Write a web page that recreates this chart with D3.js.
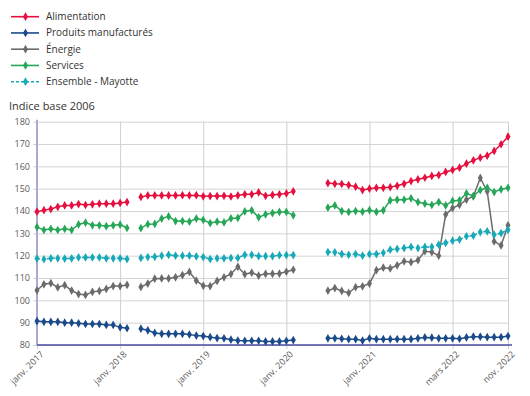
<!DOCTYPE html>
<html>
<head>
<meta charset="utf-8">
<script src="https://cdn.jsdelivr.net/npm/d3@7"></script>
<style>
  body { margin: 0; background: #fff; }
  text { font-family: "Open Sans", sans-serif; }
</style>
</head>
<body>
<div id="chart"></div>
<script>
// monthly positions 0..68 ; null = no publication
var tickIndex = [0, 12, 24, 36, 48, 60, 68];
var tickLabels = ["janv. 2017", "janv. 2018", "janv. 2019", "janv. 2020", "janv. 2021", "mars 2022", "nov. 2022"];
var yTicks = [80, 90, 100, 110, 120, 130, 140, 150, 160, 170, 180];

var seriesNames = ["Alimentation", "Produits manufacturés", "Énergie", "Services", "Ensemble - Mayotte"];

var alimentation = [139.7, 140.4, 140.9, 141.9, 142.5, 142.5, 143.1, 142.7, 143.0, 143.3, 143.3, 143.3, 143.6, 144.0,
  null,
  146.3, 147.0, 147.0, 147.0, 147.0, 147.0, 147.1, 147.0, 147.1, 146.6, 146.7, 146.7, 146.8, 146.5, 147.0, 147.5, 147.5, 148.3, 146.8, 147.2, 147.5, 147.9, 148.8,
  null, null, null, null,
  152.5, 152.2, 152.1, 151.6, 150.9, 149.4, 150.0, 150.4, 150.4, 150.7, 151.3, 152.2, 153.4, 154.2,
  154.9, 155.7, 156.1, 157.5, 158.4, 159.4, 161.2, 162.7, 163.9, 164.8, 166.9, 169.9, 173.3];

var produits = [90.7, 90.4, 90.4, 90.4, 90.0, 90.0, 89.7, 89.4, 89.4, 89.4, 89.0, 89.0, 87.9, 87.5,
  null,
  87.3, 86.6, 85.4, 85.0, 85.0, 85.0, 85.0, 84.7, 84.2, 84.0, 83.5, 83.1, 83.0, 82.4, 82.0, 81.9, 81.9, 81.9, 81.6, 81.6, 81.6, 81.9, 82.2,
  null, null, null, null,
  83.0, 83.0, 82.8, 82.6, 82.6, 82.0, 83.0, 82.6, 82.6, 82.6, 82.6, 82.6, 82.6, 83.0,
  83.4, 83.3, 83.0, 83.0, 83.0, 82.8, 83.4, 83.7, 83.7, 83.5, 83.5, 83.5, 84.0];

var energie = [104.5, 107.2, 107.7, 105.8, 106.8, 104.4, 102.8, 102.4, 103.8, 104.2, 105.1, 106.4, 106.4, 106.9,
  null,
  106.0, 107.5, 109.7, 109.8, 109.8, 110.3, 111.3, 112.7, 108.8, 106.5, 106.4, 108.7, 110.3, 111.8, 115.0, 111.7, 112.4, 111.1, 111.9, 111.9, 112.0, 112.8, 113.7,
  null, null, null, null,
  104.3, 105.5, 104.2, 103.3, 105.9, 106.3, 107.5, 113.5, 114.6, 114.3, 115.7, 117.5, 117.1, 118.0,
  122.0, 121.6, 120.0, 138.4, 141.3, 142.8, 145.1, 146.6, 154.8, 148.8, 126.4, 124.6, 133.6];

var services = [132.8, 131.5, 132.0, 131.5, 132.0, 131.5, 134.0, 134.8, 133.6, 133.6, 133.2, 133.6, 133.9, 132.4,
  null,
  132.3, 134.1, 134.2, 136.6, 137.6, 135.5, 135.5, 135.2, 136.6, 136.0, 134.6, 135.2, 134.9, 136.7, 136.9, 139.8, 140.3, 137.2, 138.5, 139.1, 139.6, 139.6, 138.1,
  null, null, null, null,
  141.5, 142.5, 140.0, 139.6, 140.0, 139.7, 140.4, 139.6, 140.3, 144.8, 145.1, 145.1, 145.7, 144.0,
  143.3, 142.7, 144.0, 142.5, 144.5, 144.8, 147.9, 146.7, 149.4, 150.4, 148.5, 149.7, 150.4];

var ensemble = [118.7, 118.4, 118.8, 118.8, 118.7, 118.8, 119.2, 119.2, 119.2, 119.2, 118.8, 118.8, 118.8, 118.5,
  null,
  119.0, 119.4, 119.5, 120.0, 120.4, 120.0, 120.0, 120.0, 119.7, 119.4, 118.5, 118.8, 118.8, 119.0, 119.0, 120.4, 120.4, 119.8, 119.8, 119.8, 120.2, 120.3, 120.3,
  null, null, null, null,
  121.6, 121.5, 120.7, 120.4, 120.7, 120.0, 120.7, 120.7, 121.3, 122.7, 123.0, 123.4, 123.9, 123.4,
  123.9, 123.9, 124.9, 125.7, 126.7, 127.2, 128.7, 129.0, 130.6, 130.9, 129.4, 130.1, 131.6];

var colors = ["#e5103f", "#1b4a8a", "#6b6b6b", "#26a657", "#17a9b7"];
var allSeries = [alimentation, produits, energie, services, ensemble];

var svgWidth = 530, svgHeight = 396;
var margin = { top: 121.7, right: 22, bottom: 51, left: 37 };
var width = svgWidth - margin.left - margin.right;
var height = svgHeight - margin.top - margin.bottom;

var svg = d3.select("#chart").append("svg")
  .attr("width", svgWidth)
  .attr("height", svgHeight);

var chartGroup = svg.append("g")
  .attr("transform", `translate(${margin.left}, ${margin.top})`);

var xScale = d3.scaleLinear().domain([0, alimentation.length - 1]).range([0, width]);
var yScale = d3.scaleLinear().domain([80, 180]).range([height, 0]);

// horizontal grid + y labels
var leftAxis = d3.axisLeft(yScale).tickValues(yTicks).tickSize(-width - 4).tickPadding(3);
var yAxis = chartGroup.append("g")
  .attr("transform", "translate(-4,0)")
  .call(leftAxis);
yAxis.select(".domain").remove();
yAxis.selectAll(".tick line").attr("stroke", "#d4d4d4");
yAxis.selectAll(".tick text").attr("fill", "#5a5a5a").style("font-size", "9px");

// vertical grid + rotated labels
var bottomAxis = d3.axisBottom(xScale).tickValues(tickIndex)
  .tickFormat((d, i) => tickLabels[i]).tickSize(-height).tickSizeOuter(0);
var xAxis = chartGroup.append("g")
  .attr("transform", `translate(0, ${height + 4})`)
  .call(bottomAxis);
xAxis.select(".domain").remove();
xAxis.selectAll(".tick line").attr("stroke", "#cfcfcf").attr("y2", -height - 4);
xAxis.selectAll(".tick text")
  .attr("fill", "#5a5a5a")
  .style("font-size", "9px")
  .attr("text-anchor", "end")
  .attr("transform", "translate(3,2) rotate(-45)")
  .attr("dy", "0.6em")
  .attr("y", 0);

// axis lines
chartGroup.append("line")
  .attr("x1", 0).attr("x2", 0).attr("y1", -2).attr("y2", height)
  .attr("stroke", "#a9a9d6").attr("stroke-width", 2);
chartGroup.append("line")
  .attr("x1", 0).attr("x2", width + 4).attr("y1", height).attr("y2", height)
  .attr("stroke", "#4a4aa8").attr("stroke-width", 1.5);

var line = d3.line()
  .defined(d => d !== null)
  .x((d, i) => xScale(i))
  .y(d => yScale(d));

var symbol = d3.symbol().type(d3.symbolDiamond).size(22);

allSeries.forEach(function(values, s) {
  chartGroup.append("path")
    .datum(values)
    .attr("fill", "none")
    .attr("stroke", colors[s])
    .attr("stroke-width", 1.5)
    .attr("stroke-dasharray", s === 4 ? "3,2" : null)
    .attr("d", line);

  chartGroup.append("g").selectAll("path")
    .data(values.map((v, i) => ({ v: v, i: i })).filter(d => d.v !== null))
    .enter()
    .append("path")
    .attr("d", symbol)
    .attr("fill", colors[s])
    .attr("transform", d => `translate(${xScale(d.i)}, ${yScale(d.v)})`);
});

// legend
var legend = svg.append("g");
seriesNames.forEach(function(name, s) {
  var y = 16.7 + s * 16.25;
  legend.append("line")
    .attr("x1", 11).attr("x2", 39).attr("y1", y).attr("y2", y)
    .attr("stroke", colors[s]).attr("stroke-width", 1.6)
    .attr("stroke-dasharray", s === 4 ? "3,2" : null);
  legend.append("path")
    .attr("d", symbol)
    .attr("fill", colors[s])
    .attr("transform", `translate(25.5, ${y})`);
  legend.append("text")
    .attr("x", 46).attr("y", y + 3.5)
    .attr("fill", "#333")
    .style("font-size", "10px")
    .text(name);
});

svg.append("text")
  .attr("x", 9).attr("y", 110)
  .attr("fill", "#333")
  .style("font-size", "11px")
  .text("Indice base 2006");
</script>
</body>
</html>
